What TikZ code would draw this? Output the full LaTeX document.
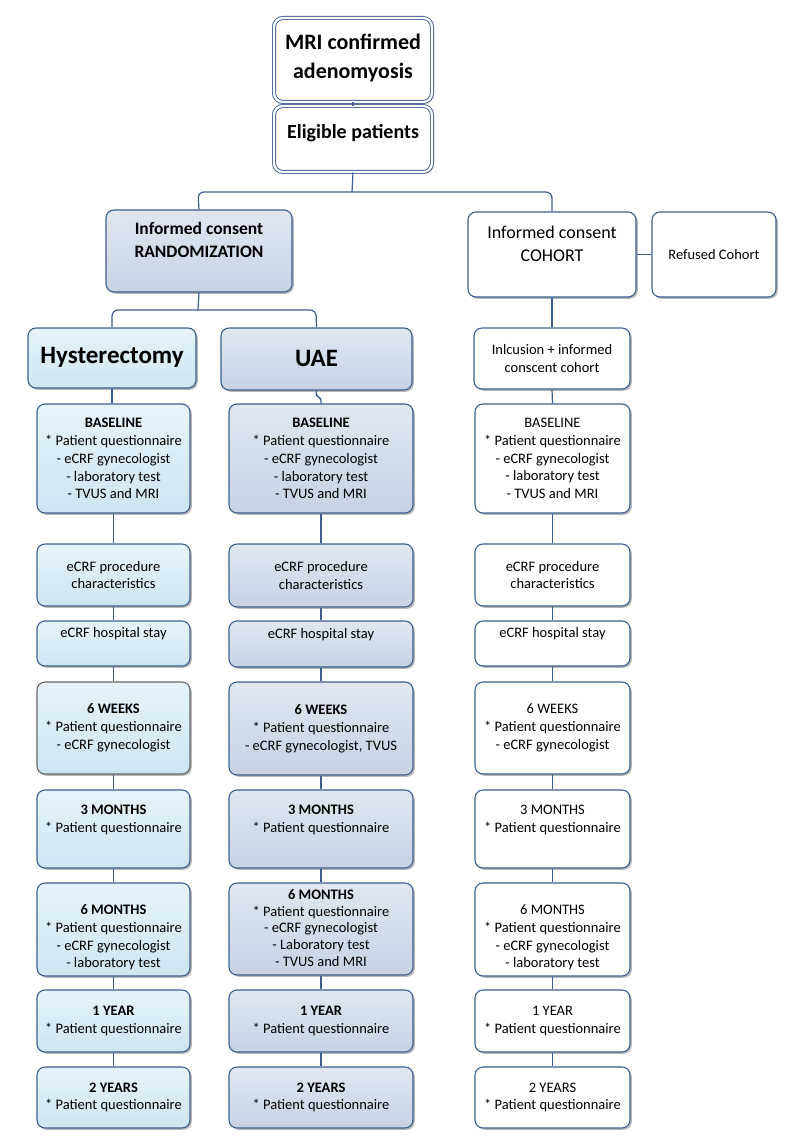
\documentclass[tikz,border=0pt]{standalone}
\usepackage{fontspec}
\setmainfont{Carlito}
\usetikzlibrary{shadows}
\definecolor{bdr}{HTML}{3D5F8E}
\definecolor{hystT}{HTML}{E6F4FA}
\definecolor{hystB}{HTML}{CDE6F2}
\definecolor{uaeT}{HTML}{E0E7F1}
\definecolor{uaeB}{HTML}{C6D2E4}
\definecolor{shd}{HTML}{9A9A9A}
% #1 text shift (up), #2 name, #3-#6 corners, #7 box style, #8 text style, #9 text
\newcommand\bx[9][0]{%
  \node[#7, minimum width={(#5-#3)*1pt}, minimum height={(#6-#4)*1pt}] (#2) at ({(#3+#5)/2},{(#4+#6)/2}) {};
  \node[txt, #8] at ([yshift=#1pt]#2.center) {#9};}
\tikzset{
  base/.style={rounded corners=8pt, draw=bdr, line width=1.1pt, inner sep=0pt,
    drop shadow={shadow xshift=1.8pt, shadow yshift=-1.8pt, fill=shd, opacity=.7}},
  hyst/.style={base, top color=hystT, bottom color=hystB},
  uae/.style={base, top color=uaeT, bottom color=uaeB},
  coh/.style={base, fill=white},
  topbox/.style={rounded corners=9pt, draw=bdr, line width=.9pt, double=white, double distance=2.2pt,
    fill=white, inner sep=0pt,
    drop shadow={shadow xshift=1.8pt, shadow yshift=-1.8pt, fill=shd, opacity=.6}},
  txt/.style={align=center, inner sep=0pt, font=\fontsize{14.5}{17.8}\selectfont},
  conn/.style={draw=bdr, line width=1.2pt},
}
\begin{document}
\begin{tikzpicture}[x=1pt,y=-1pt]
\useasboundingbox (0,0) rectangle (795,1147);
% top
\bx[2]{mri}{274}{18}{432}{102}{topbox}{font=\fontsize{22}{28.5}\selectfont\bfseries}{MRI confirmed\\adenomyosis}
\bx[6]{elig}{274}{106}{432}{172}{topbox}{font=\fontsize{20}{24}\selectfont\bfseries}{Eligible patients}
% second level
\bx[11.5]{rand}{106}{210}{292}{292}{uae}{font=\fontsize{17.5}{23}\selectfont\bfseries}{Informed consent\\RANDOMIZATION}
\bx[10.5]{coh}{468}{212}{636}{297}{coh}{font=\fontsize{18}{22.5}\selectfont}{Informed consent\\COHORT}
\bx{ref}{652}{212}{776}{297}{coh}{}{Refused Cohort}
% third level
\bx[1]{hy}{28}{328}{196}{388}{hyst}{font=\fontsize{25}{30}\selectfont\bfseries}{Hysterectomy}
\bx[1]{ua}{221}{328}{412}{390}{uae}{font=\fontsize{25}{30}\selectfont\bfseries}{UAE}
\bx{inc}{474}{328}{630}{389}{coh}{}{Inlcusion + informed\\conscent cohort}
% left column
\bx{l1}{37}{404}{190}{513}{hyst}{}{\textbf{BASELINE}\\{*} Patient questionnaire\\- eCRF gynecologist\\- laboratory test\\- TVUS and MRI}
\bx{l2}{37}{544}{190}{606}{hyst}{}{eCRF procedure\\characteristics}
\bx[9.5]{l3}{37}{621}{190}{666}{hyst}{}{eCRF hospital stay}
\bx{l4}{37}{682}{190}{774}{hyst, draw=black!60}{}{\textbf{6 WEEKS}\\{*} Patient questionnaire\\- eCRF gynecologist}
\bx[9]{l5}{37}{790}{190}{868}{hyst}{}{\textbf{3 MONTHS}\\{*} Patient questionnaire}
\bx[-8]{l6}{37}{883}{190}{976}{hyst}{}{\textbf{6 MONTHS}\\{*} Patient questionnaire\\- eCRF gynecologist\\- laboratory test}
\bx{l7}{37}{990}{190}{1052}{hyst}{}{\textbf{1 YEAR}\\{*} Patient questionnaire}
\bx{l8}{37}{1067}{190}{1128}{hyst}{}{\textbf{2 YEARS}\\{*} Patient questionnaire}
% middle column
\bx{m1}{229}{404}{413}{513}{uae}{}{\textbf{BASELINE}\\{*} Patient questionnaire\\- eCRF gynecologist\\- laboratory test\\- TVUS and MRI}
\bx{m2}{229}{544}{413}{607}{uae}{}{eCRF procedure\\characteristics}
\bx[9.5]{m3}{229}{621}{413}{667}{uae}{}{eCRF hospital stay}
\bx{m4}{229}{682}{413}{775}{uae}{}{\textbf{6 WEEKS}\\{*} Patient questionnaire\\- eCRF gynecologist, TVUS}
\bx[9]{m5}{229}{790}{413}{868}{uae}{}{\textbf{3 MONTHS}\\{*} Patient questionnaire}
\bx[1]{m6}{229}{883}{413}{975}{uae}{font=\fontsize{14.5}{16.8}\selectfont}{\textbf{6 MONTHS}\\{*} Patient questionnaire\\- eCRF gynecologist\\- Laboratory test\\- TVUS and MRI}
\bx{m7}{229}{990}{413}{1052}{uae}{}{\textbf{1 YEAR}\\{*} Patient questionnaire}
\bx{m8}{229}{1067}{413}{1128}{uae}{}{\textbf{2 YEARS}\\{*} Patient questionnaire}
% right column
\bx{r1}{475}{404}{630}{513}{coh}{}{BASELINE\\{*} Patient questionnaire\\- eCRF gynecologist\\- laboratory test\\- TVUS and MRI}
\bx{r2}{475}{544}{630}{606}{coh}{}{eCRF procedure\\characteristics}
\bx[9.5]{r3}{475}{621}{630}{666}{coh}{}{eCRF hospital stay}
\bx{r4}{475}{682}{630}{774}{coh}{}{6 WEEKS\\{*} Patient questionnaire\\- eCRF gynecologist}
\bx[9]{r5}{475}{790}{630}{868}{coh}{}{3 MONTHS\\{*} Patient questionnaire}
\bx[-8]{r6}{475}{883}{630}{976}{coh}{}{6 MONTHS\\{*} Patient questionnaire\\- eCRF gynecologist\\- laboratory test}
\bx{r7}{475}{990}{630}{1052}{coh}{}{1 YEAR\\{*} Patient questionnaire}
\bx{r8}{475}{1067}{630}{1128}{coh}{}{2 YEARS\\{*} Patient questionnaire}
% connectors
\draw[conn] (mri.south) -- (elig.north);
\draw[conn, rounded corners=6pt] (elig.south) -- (352,192);
\draw[conn, rounded corners=6pt] (rand.north) -- (198,192) -- (coh.north |- 0,192) -- (coh.north);
\draw[conn] (coh.east) -- (ref.west);
\draw[conn] (rand.south) -- (198,310);
\draw[conn, rounded corners=6pt] (hy.north) -- (112,310) -- (316,310) -- (ua.north);
\draw[conn] (coh.south) -- (inc.north);
\draw[conn] (inc.south) -- (r1.north);
\draw[conn] (hy.south) -- (l1.north -| hy.south);
\draw[conn, rounded corners=3pt] (ua.south) -- (316,396) -- (321,398) -- (m1.north);
\foreach \c in {l,m,r}{
  \foreach \a/\b in {1/2,2/3,3/4,4/5,5/6,6/7,7/8}{
    \draw[conn] (\c\a.south) -- (\c\b.north);
  }
}
\end{tikzpicture}
\end{document}
